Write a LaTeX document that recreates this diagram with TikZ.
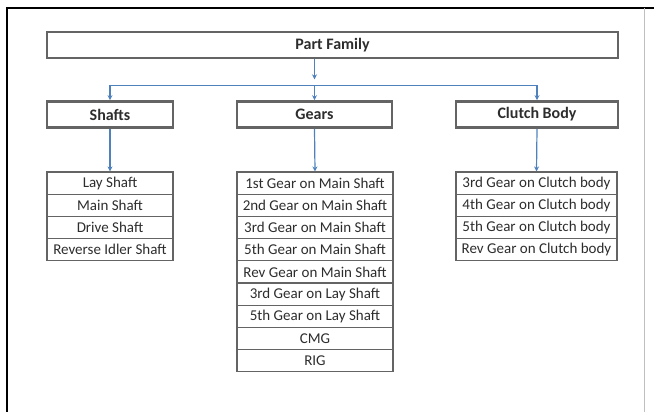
\documentclass[tikz,border=0pt]{standalone}
\usepackage{fontspec}
\setmainfont{Carlito}
\usepackage{tikz}
\usetikzlibrary{positioning, arrows.meta}
\definecolor{frame}{RGB}{100, 100, 100}
\definecolor{link}{RGB}{79, 129, 189}
\definecolor{ink}{RGB}{45, 45, 45}

\begin{document}
\begin{tikzpicture}[x=1pt, y=1pt,
  head/.style={draw=frame, line width=2.6pt, minimum height=26pt, inner sep=0pt,
    text=ink, font=\fontsize{16}{18}\selectfont\bfseries},
  item/.style={draw=frame, line width=1.1pt, minimum height=22.2pt, inner sep=0pt,
    text=ink, font=\fontsize{15}{17}\selectfont},
  conn/.style={draw=link, line width=1.2pt, -{Stealth[length=5pt, width=5pt]}}]

  \useasboundingbox (0, 0) rectangle (654, -412);

  % outer frame
  \draw[black, line width=2pt] (7, -412) -- (7, -8) -- (654, -8);
  \draw[black!25, line width=0.8pt] (644, -8) -- (644, -412);

  % headings
  \node[head, minimum width=571pt] (pf) at (332.5, -45) {Part Family};
  \node[head, minimum width=126pt] (shafts) at (110, -114.5) {Shafts};
  \node[head, minimum width=155pt] (gears) at (314.5, -114.5) {Gears};
  \node[head, minimum width=162pt] (clutch) at (537, -114.5) {Clutch Body};

  % lists
  \foreach \txt [count=\i] in {Lay Shaft, Main Shaft, Drive Shaft,
      Reverse Idler Shaft}
    \node[item, minimum width=126pt] (shaft\i) at (110, {-160.9-22.2*\i}) {\txt};
  \foreach \txt [count=\i] in {1st Gear on Main Shaft, 2nd Gear on Main Shaft,
      3rd Gear on Main Shaft, 5th Gear on Main Shaft, Rev Gear on Main Shaft,
      3rd Gear on Lay Shaft, 5th Gear on Lay Shaft, CMG, RIG}
    \node[item, minimum width=156pt] (gear\i) at (315, {-160.9-22.2*\i}) {\txt};
  \foreach \txt [count=\i] in {3rd Gear on Clutch body, 4th Gear on Clutch body,
      5th Gear on Clutch body, Rev Gear on Clutch body}
    \node[item, minimum width=161pt] (cb\i) at (536.5, {-160.9-22.2*\i}) {\txt};

  % connectors
  \path (pf.south -| gears) ++(0, -26) coordinate (split);
  \draw[conn, shorten >=6pt] (pf.south -| gears) -- (split);
  \draw[conn] (split) -- (gears.north);
  \draw[conn] (split) -| (shafts.north);
  \draw[conn] (split) -| (clutch.north);

  \draw[conn] (shafts.south) -- (shaft1.north);
  \draw[conn] (gears.south) -- (gear1.north);
  \draw[conn] (clutch.south) -- (cb1.north);

\end{tikzpicture}
\end{document}
